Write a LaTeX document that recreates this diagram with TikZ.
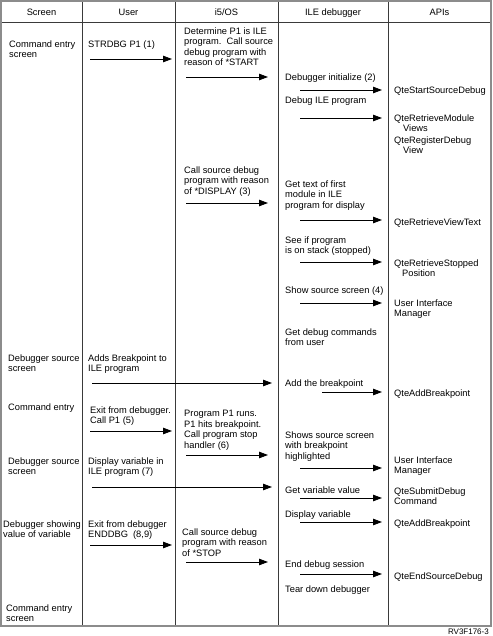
\documentclass[tikz,border=0pt]{standalone}
\usepackage{fontspec}
\setmainfont{Liberation Sans}
\usetikzlibrary{arrows.meta}
\definecolor{frame}{HTML}{8C8C8C}
\definecolor{rule}{HTML}{3A3A3A}
\tikzset{txt/.style={anchor=north west,inner sep=0pt,align=left,yshift=3.7pt,font=\fontsize{9.3}{10.5}\selectfont},head/.style={anchor=base,inner sep=0pt,font=\fontsize{9.3}{10.5}\selectfont},call/.style={-{Triangle[length=9pt,width=6.5pt]},line width=.8pt}}
\begin{document}
\begin{tikzpicture}[x=1pt,y=-1pt]
\useasboundingbox (0,0) rectangle (492,636);
\draw[rule,line width=.8pt] (1,22)--(491,22);
\foreach \c in {82,175,278,388} \draw[rule,line width=.8pt] (\c,1)--(\c,626);
\draw[frame,line width=1.2pt] (1,1) rectangle (491,626);
\node[head] (hscreen) at (41.5,16) {Screen};
\node[head] (huser) at (128.5,16) {User};
\node[head] (hos) at (226.5,16) {i5/OS};
\node[head] (hile) at (333,16) {ILE debugger};
\node[head] (hapi) at (439.5,16) {APIs};
\node[txt] (s1) at (9,44) {Command entry\\screen};
\node[txt] (s2) at (8,358) {Debugger source\\screen};
\node[txt] (s3) at (8,407) {Command entry};
\node[txt] (s4) at (8,461) {Debugger source\\screen};
\node[txt] (s5) at (3,524) {Debugger showing\\value of variable};
\node[txt] (s6) at (6,608) {Command entry\\screen};
\node[txt] (u1) at (88,44) {STRDBG P1 (1)};
\node[txt] (u2) at (88,358) {Adds Breakpoint to\\ILE program};
\node[txt] (u3) at (90,410) {Exit from debugger.\\Call P1 (5)};
\node[txt] (u4) at (88,461) {Display variable in\\ILE program (7)};
\node[txt] (u5) at (88,524) {Exit from debugger\\ENDDBG~~(8,9)};
\node[txt] (o1) at (184,31) {Determine P1 is ILE\\program.~~Call source\\debug program with\\reason of *START};
\node[txt] (o2) at (184,170) {Call source debug\\program with reason\\of *DISPLAY (3)};
\node[txt] (o3) at (184,414) {Program P1 runs.\\P1 hits breakpoint.\\Call program stop\\handler (6)};
\node[txt] (o4) at (182,532) {Call source debug\\program with reason\\of *STOP};
\node[txt] (d1) at (285,77) {Debugger initialize (2)};
\node[txt] (d2) at (285,100) {Debug ILE program};
\node[txt] (d3) at (285,184) {Get text of first\\module in ILE\\program for display};
\node[txt] (d4) at (285,240) {See if program\\is on stack (stopped)};
\node[txt] (d5) at (285,290) {Show source screen (4)};
\node[txt] (d6) at (285,332) {Get debug commands\\from user};
\node[txt] (d7) at (285,383) {Add the breakpoint};
\node[txt] (d8) at (285,435) {Shows source screen\\with breakpoint\\highlighted};
\node[txt] (d9) at (285,490) {Get variable value};
\node[txt] (d10) at (285,514) {Display variable};
\node[txt] (d11) at (285,564) {End debug session};
\node[txt] (d12) at (285,589) {Tear down debugger};
\node[txt] (a1) at (394,90) {QteStartSourceDebug};
\node[txt] (a2) at (394,118) {QteRetrieveModule\\\hspace*{9pt}Views};
\node[txt] (a3) at (394,140) {QteRegisterDebug\\\hspace*{9pt}View};
\node[txt] (a4) at (394,222) {QteRetrieveViewText};
\node[txt] (a5) at (394,263) {QteRetrieveStopped\\\hspace*{8pt}Position};
\node[txt] (a6) at (394,303) {User Interface\\Manager};
\node[txt] (a7) at (394,393) {QteAddBreakpoint};
\node[txt] (a8) at (394,460) {User Interface\\Manager};
\node[txt] (a9) at (394,491) {QteSubmitDebug\\Command};
\node[txt] (a10) at (394,523) {QteAddBreakpoint};
\node[txt] (a11) at (394,576) {QteEndSourceDebug};
\foreach \n/\xa/\xb/\y in {u1/90/172/59,u2/92/272/383,u3/90/172/431,u4/92/272/487,u5/90/172/545,
  o1/186/268/77,o2/186/268/203,o3/186/268/455,o4/186/268/562,
  d1/300/382/90,d2/300/382/118,d3/300/382/220,d4/300/382/262,d5/300/382/303,d7/322/382/392,
  d8/300/382/468,d9/300/382/498,d10/300/382/522,d11/300/382/574}{
  \coordinate (s\n) at (\xa,\y); \coordinate (e\n) at (\xb,\y);
  \draw[call] (s\n)--(e\n);}
\node[anchor=base east,inner sep=0pt,font=\fontsize{8}{9}\selectfont] (fig) at (489,634) {RV3F176-3};
\end{tikzpicture}
\end{document}
